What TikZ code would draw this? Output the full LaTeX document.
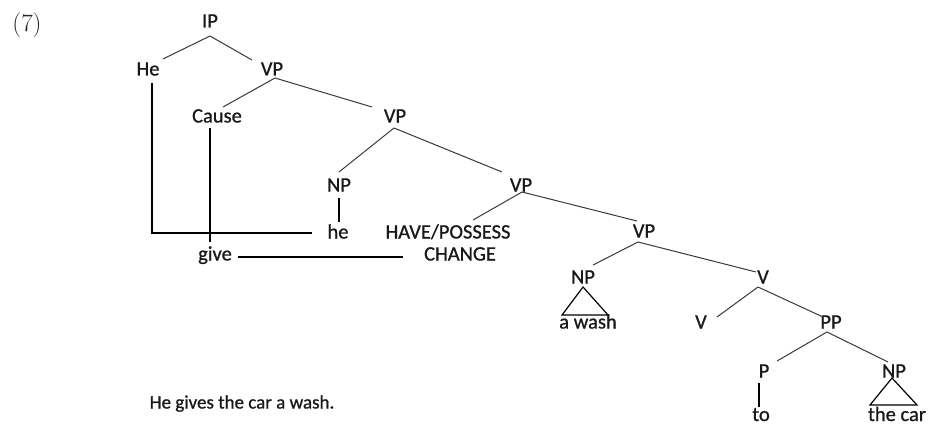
\documentclass[tikz,border=0pt]{standalone}
\usepackage{fontspec}
\newfontfamily\calfont[FakeBold=0.9]{Carlito}
\begin{document}
\begin{tikzpicture}[x=1pt,y=-1pt,
  lbl/.style={font=\calfont\fontsize{20.5}{24}\selectfont, text=black!90, inner sep=2pt, text height=13pt, text depth=0pt},
  br/.style={draw=black!78, line width=1pt},
  link/.style={draw=black, line width=1.2pt}]
\useasboundingbox (0,0) rectangle (928,425);
\node[font=\fontsize{25}{30}\selectfont, inner sep=0pt, text=black!85] (ex) at (27,25) {(7)};
\node[lbl] (IP) at (210,21) {IP};
\node[lbl] (He) at (148,69) {He};
\node[lbl] (VPa) at (272,69) {VP};
\node[lbl] (Cause) at (217,116) {Cause};
\node[lbl] (VPb) at (395,116) {VP};
\node[lbl] (NPa) at (339,185) {NP};
\node[lbl] (VPc) at (521,185) {VP};
\node[lbl] (he) at (338,232) {he};
\node[lbl] (have) at (448,232) {HAVE/POSSESS};
\node[lbl] (change) at (460,254) {CHANGE};
\node[lbl] (give) at (215,254) {give};
\node[lbl] (VPd) at (644,231) {VP};
\node[lbl] (NPb) at (583,277) {NP};
\node[lbl] (wash) at (588,322) {a wash};
\node[lbl] (Vup) at (763,277) {V};
\node[lbl] (Vlow) at (701,322) {V};
\node[lbl] (PP) at (831,322) {PP};
\node[lbl] (P) at (764,371) {P};
\node[lbl] (NPc) at (894,371) {NP};
\node[lbl] (to) at (761,414.5) {to};
\node[lbl] (car) at (897,414.5) {the car};
\node[lbl, font=\calfont\fontsize{19}{23}\selectfont] (sent) at (242,402) {He gives the car a wash.};
% branches
\draw[br] ([shift={(0,15)}]IP.center) -- ([shift={(15,-10)}]He.center);
\draw[br] ([shift={(0,15)}]IP.center) -- ([shift={(-20,-9)}]VPa.center);
\draw[br] ([shift={(3,9)}]VPa.center) -- ([shift={(6,-9)}]Cause.center);
\draw[br] ([shift={(3,9)}]VPa.center) -- ([shift={(-23,-9)}]VPb.center);
\draw[br] ([shift={(-1,12)}]VPb.center) -- ([shift={(0,-13)}]NPa.center);
\draw[br] ([shift={(-1,12)}]VPb.center) -- ([shift={(-19,-13)}]VPc.center);
\draw[br] ([shift={(1,7)}]VPc.center) -- ([shift={(25,-12)}]have.center);
\draw[br] ([shift={(1,7)}]VPc.center) -- ([shift={(-7,-10)}]VPd.center);
\draw[br] ([shift={(-6,11)}]VPd.center) -- ([shift={(10,-12)}]NPb.center);
\draw[br] ([shift={(-6,11)}]VPd.center) -- ([shift={(-7,-5)}]Vup.center);
\draw[br] ([shift={(-5,10)}]Vup.center) -- ([shift={(16,-5)}]Vlow.center);
\draw[br] ([shift={(-5,10)}]Vup.center) -- ([shift={(-8,-5)}]PP.center);
\draw[br] ([shift={(-4,10)}]PP.center) -- ([shift={(13,-10)}]P.center);
\draw[br] ([shift={(-4,10)}]PP.center) -- ([shift={(-6,-9)}]NPc.center);
\draw[link] ([shift={(0,13)}]NPa.center) -- ([shift={(1,-10)}]he.center);
\draw[link] ([shift={(-5,12)}]P.center) -- ([shift={(-2,-8)}]to.center);
% triangles
\draw[link] ([shift={(0,10)}]NPb.center) -- ++(-21,28) -- ++(46,0) -- cycle;
\draw[link] ([shift={(-2,7)}]NPc.center) -- ++(-22,27) -- ++(47,0) -- cycle;
% association lines
\draw[link] ([shift={(4,14)}]He.center) |- ([shift={(-26,1)}]he.center);
\draw[link] ([shift={(-7,12)}]Cause.center) -- ([shift={(-5,-12)}]give.center);
\draw[link] ([shift={(23,3)}]give.center) -- ([shift={(-57,3)}]change.center);
\end{tikzpicture}
\end{document}
